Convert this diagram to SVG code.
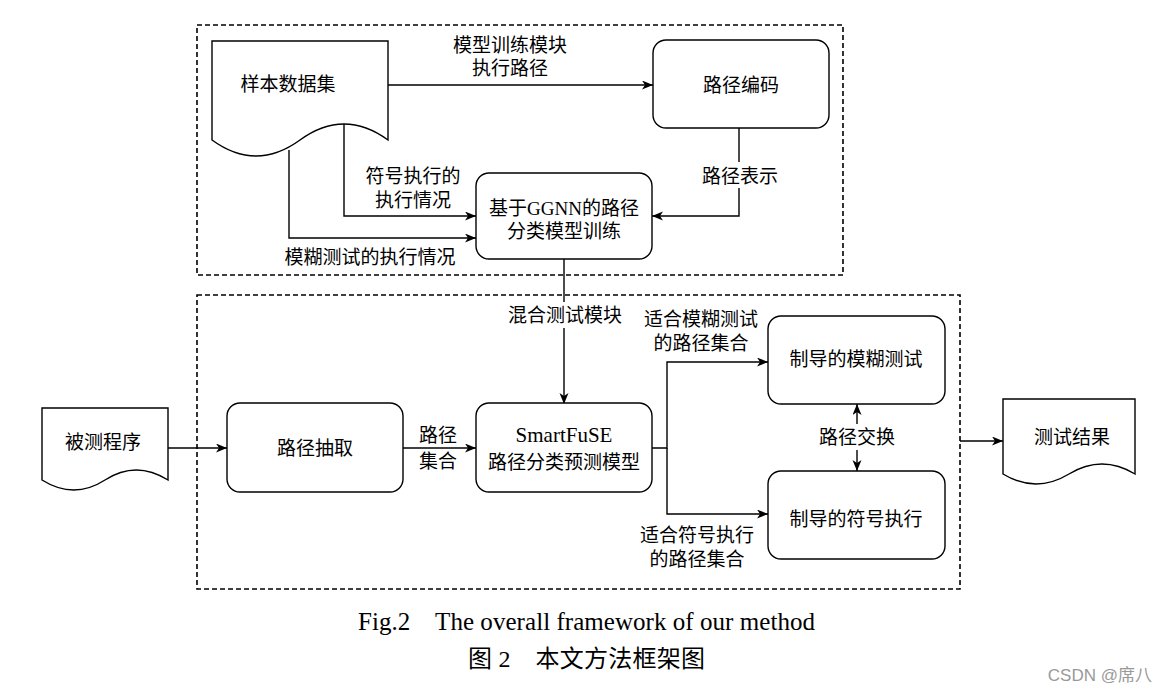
<svg xmlns="http://www.w3.org/2000/svg" width="1160" height="694" viewBox="0 0 1160 694">
<defs>
<marker id="arr" markerUnits="userSpaceOnUse" markerWidth="12" markerHeight="10" refX="11" refY="4.5" orient="auto">
<path d="M0,0 L11,4.5 L0,9 L3,4.5 Z" fill="#000"/>
</marker>
<marker id="arrs" markerUnits="userSpaceOnUse" markerWidth="12" markerHeight="10" refX="11" refY="4.5" orient="auto-start-reverse">
<path d="M0,0 L11,4.5 L0,9 L3,4.5 Z" fill="#000"/>
</marker>
<style>
.box{fill:#fff;stroke:#000;stroke-width:1.4}
.dash{fill:none;stroke:#000;stroke-width:1.6;stroke-dasharray:5 3}
.ln{fill:none;stroke:#000;stroke-width:1.4}
.t{font-family:"Liberation Serif","Noto Sans CJK SC",serif;font-size:19px;fill:#000;text-anchor:middle;dominant-baseline:central}
.cap{font-family:"Liberation Serif","Noto Sans CJK SC",serif;font-size:24px;fill:#000}
.bg{fill:#fff}
</style>
</defs>
<rect width="1160" height="694" fill="#fff"/>

<g id="modules">
<rect class="dash" x="197" y="25" width="646" height="250"/>
<rect class="dash" x="197" y="295" width="763" height="294"/>
</g>

<g id="connectors">
<line class="ln" x1="388" y1="85" x2="653" y2="85" marker-end="url(#arr)"/>
<polyline class="ln" points="739,128 739,216 652,216" marker-end="url(#arr)"/>
<polyline class="ln" points="344,124 344,216 476,216" marker-end="url(#arr)"/>
<polyline class="ln" points="289,150 289,238 476,238" marker-end="url(#arr)"/>
<line class="ln" x1="564" y1="259" x2="564" y2="404" marker-end="url(#arr)"/>
<line class="ln" x1="168" y1="448" x2="227" y2="448" marker-end="url(#arr)"/>
<line class="ln" x1="403" y1="448" x2="476" y2="448" marker-end="url(#arr)"/>
<polyline class="ln" points="652,448 667,448 667,362 768,362" marker-end="url(#arr)"/>
<polyline class="ln" points="667,448 667,514 768,514" marker-end="url(#arr)"/>
<line class="ln" x1="857" y1="404" x2="857" y2="471" stroke-width="1" marker-start="url(#arrs)" marker-end="url(#arrs)"/>
<line class="ln" x1="960" y1="441" x2="1003" y2="441" marker-end="url(#arr)"/>

<rect class="bg" x="698" y="162" width="84" height="26"/>
<rect class="bg" x="500" y="302" width="128" height="26"/>
<rect class="bg" x="815" y="424" width="84" height="26"/>

<text class="t" x="510" y="45">模型训练模块</text>
<text class="t" x="510" y="68">执行路径</text>
<text class="t" x="740" y="176">路径表示</text>
<text class="t" x="413" y="176">符号执行的</text>
<text class="t" x="413" y="200">执行情况</text>
<text class="t" x="370" y="257">模糊测试的执行情况</text>
<text class="t" x="565" y="315">混合测试模块</text>
<text class="t" x="438" y="435">路径</text>
<text class="t" x="438" y="461">集合</text>
<text class="t" x="701" y="319">适合模糊测试</text>
<text class="t" x="701" y="343">的路径集合</text>
<text class="t" x="697" y="535">适合符号执行</text>
<text class="t" x="697" y="559">的路径集合</text>
<text class="t" x="857" y="437">路径交换</text>
</g>

<g id="n-sample">
<path class="box" d="M212,41 H388 V140 Q344,108 300,140 Q256,172 212,140 Z"/>
<text class="t" x="288" y="84">样本数据集</text>
</g>

<g id="n-encode">
<rect class="box" x="653" y="40" width="176" height="88" rx="13"/>
<text class="t" x="741" y="85">路径编码</text>
</g>

<g id="n-ggnn">
<rect class="box" x="476" y="173" width="176" height="86" rx="13"/>
<text class="t" x="564" y="208">基于GGNN的路径</text>
<text class="t" x="564" y="231">分类模型训练</text>
</g>

<g id="n-program">
<path class="box" d="M42,408 H168 V480 Q136,460 105,480 Q74,500 42,480 Z"/>
<text class="t" x="103" y="442">被测程序</text>
</g>

<g id="n-extract">
<rect class="box" x="227" y="403" width="176" height="89" rx="13"/>
<text class="t" x="315" y="448">路径抽取</text>
</g>

<g id="n-smartfuse">
<rect class="box" x="476" y="403" width="176" height="89" rx="13"/>
<text class="t" x="564" y="435" style="font-size:21px">SmartFuSE</text>
<text class="t" x="564" y="462">路径分类预测模型</text>
</g>

<g id="n-fuzz">
<rect class="box" x="768" y="316" width="177" height="88" rx="13"/>
<text class="t" x="856" y="359">制导的模糊测试</text>
</g>

<g id="n-symexec">
<rect class="box" x="768" y="471" width="177" height="88" rx="13"/>
<text class="t" x="856" y="519">制导的符号执行</text>
</g>

<g id="n-result">
<path class="box" d="M1003,399 H1135 V474 Q1102,454 1069,474 Q1036,494 1003,474 Z"/>
<text class="t" x="1072" y="437">测试结果</text>
</g>

<g id="caption">
<text class="cap" x="358" y="630" textLength="457" lengthAdjust="spacing" style="font-size:25px" xml:space="preserve">Fig.2    The overall framework of our method</text>
<text class="cap" x="468" y="667" textLength="237" lengthAdjust="spacing" xml:space="preserve">图 2    本文方法框架图</text>
<text x="1152" y="681" text-anchor="end" style="font-family:'Liberation Sans','Noto Sans CJK SC',sans-serif;font-size:17px;fill:#999">CSDN @席八</text>
</g>
</svg>
